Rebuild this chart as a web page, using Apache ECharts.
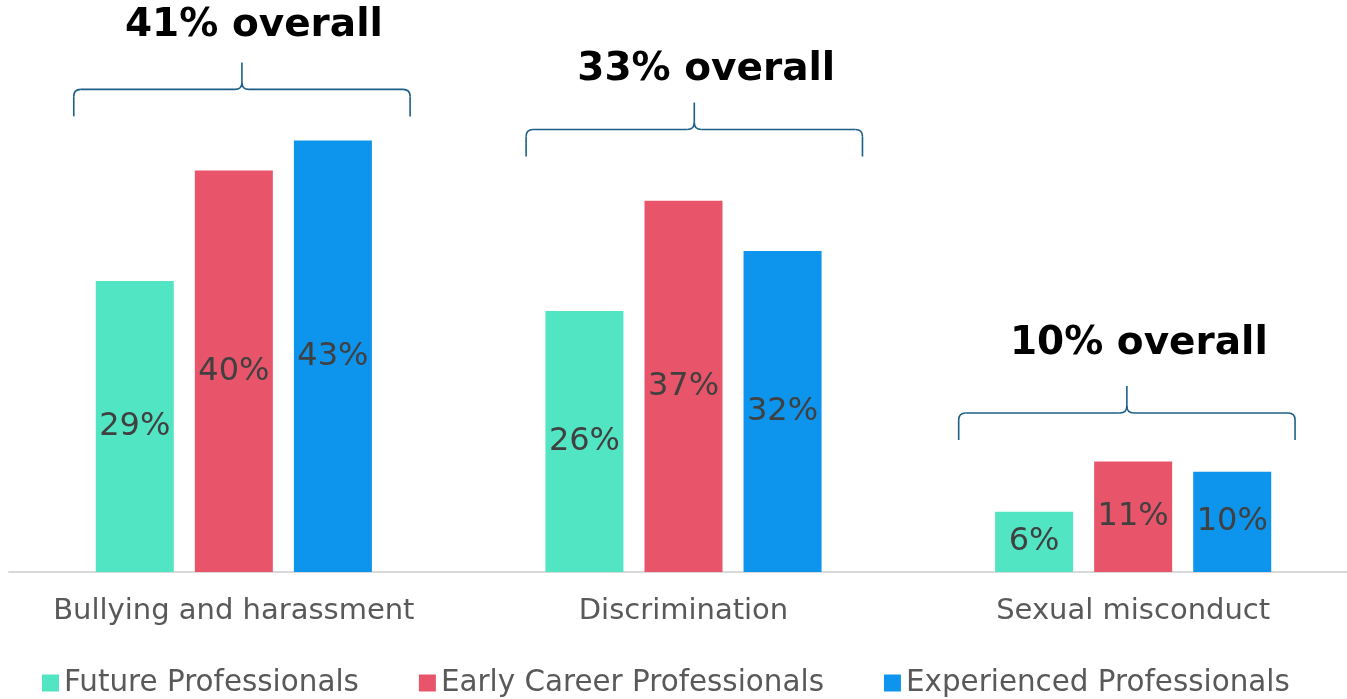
<!DOCTYPE html>
<html>
<head>
<meta charset="utf-8">
<script src="https://cdn.jsdelivr.net/npm/echarts@6/dist/echarts.min.js"></script>
<style>
  html, body { margin: 0; padding: 0; background: #ffffff; }
  #chart { width: 1347px; height: 699px; }
</style>
</head>
<body>
<div id="chart"></div>
<script>
// Survey results by category and career stage (percent of respondents)
const categories = ['Bullying and harassment', 'Discrimination', 'Sexual misconduct'];
const seriesNames = ['Future Professionals', 'Early Career Professionals', 'Experienced Professionals'];
const futureProfessionals = [29, 26, 6];
const earlyCareerProfessionals = [40, 37, 11];
const experiencedProfessionals = [43, 32, 10];
const overallRates = [41, 33, 10];

// Placement of the braces above each group (value units / fraction of a band / px)
const braceLayout = {
  level: [45.4, 41.4, 13.15],
  shift: [0.018, 0.024, -0.014],
  titleGap: [37, 33, 42]
};

const colors = ['#52e5c4', '#e8546a', '#0d94ec'];
const FONT = 'DejaVu Sans, Verdana, sans-serif';

const barLabel = {
  show: true,
  position: 'inside',
  formatter: '{c}%',
  fontSize: 32,
  fontFamily: FONT,
  color: '#404040'
};

function barSeries(name, values, color) {
  return {
    name: name,
    type: 'bar',
    data: values,
    barWidth: 78,
    barGap: '27%',
    itemStyle: { color: color },
    label: barLabel
  };
}

// Curly brace with an "N% overall" heading over each category group
function renderBrace(params, api) {
  const i = api.value(0);
  const p = api.coord([i, api.value(1)]);
  const band = api.size([1, 0])[0];
  const xc = p[0] + braceLayout.shift[i] * band;
  const half = band * 0.374;
  const y0 = p[1];
  const yM = y0 - 27;
  const yT = y0 - 54;
  const r = 7;
  const xL = xc - half;
  const xR = xc + half;
  const st = { stroke: '#1c5f86', lineWidth: 1.6, fill: null };
  const line = (x1, y1, x2, y2) => ({ type: 'line', shape: { x1, y1, x2, y2 }, style: st });
  const curve = (x1, y1, cx, cy, x2, y2) => ({
    type: 'bezierCurve',
    shape: { x1, y1, x2, y2, cpx1: cx, cpy1: cy },
    style: st
  });
  return {
    type: 'group',
    children: [
      line(xL, y0, xL, yM + r),
      curve(xL, yM + r, xL, yM, xL + r, yM),
      line(xL + r, yM, xc - r, yM),
      curve(xc - r, yM, xc, yM, xc, yM - r),
      line(xc, yM - r, xc, yT),
      curve(xc, yM - r, xc, yM, xc + r, yM),
      line(xc + r, yM, xR - r, yM),
      curve(xR - r, yM, xR, yM, xR, yM + r),
      line(xR, yM + r, xR, y0),
      {
        type: 'text',
        style: {
          text: api.value(2) + '% overall',
          x: xc + 12,
          y: yT - braceLayout.titleGap[i],
          align: 'center',
          verticalAlign: 'middle',
          fontSize: 39,
          fontWeight: 'bold',
          fontFamily: FONT,
          fill: '#000000'
        }
      }
    ]
  };
}

const chart = echarts.init(document.getElementById('chart'), null, { renderer: 'canvas' });

chart.setOption({
  animation: false,
  backgroundColor: '#ffffff',
  textStyle: { fontFamily: FONT },
  grid: { left: 9, width: 1349, top: 0, height: 572, containLabel: false, outerBoundsMode: 'none' },
  legend: {
    data: seriesNames,
    top: 666,
    left: 42,
    padding: 0,
    icon: 'rect',
    itemWidth: 17,
    itemHeight: 17,
    itemGap: 60,
    textStyle: { fontSize: 29.4, color: '#595959', fontFamily: FONT, lineHeight: 34 }
  },
  xAxis: {
    type: 'category',
    data: categories,
    axisTick: { show: false },
    axisLine: { lineStyle: { color: '#d9d9d9', width: 2 } },
    axisLabel: { fontSize: 29, color: '#595959', fontFamily: FONT, margin: 22, lineHeight: 34, interval: 0 }
  },
  yAxis: {
    type: 'value',
    min: 0,
    max: 57,
    show: false,
    splitLine: { show: false }
  },
  series: [
    barSeries(seriesNames[0], futureProfessionals, colors[0]),
    barSeries(seriesNames[1], earlyCareerProfessionals, colors[1]),
    barSeries(seriesNames[2], experiencedProfessionals, colors[2]),
    {
      name: 'overall',
      type: 'custom',
      clip: false,
      silent: true,
      renderItem: renderBrace,
      data: overallRates.map((v, i) => [i, braceLayout.level[i], v]),
      z: 5
    }
  ]
});
</script>
</body>
</html>
